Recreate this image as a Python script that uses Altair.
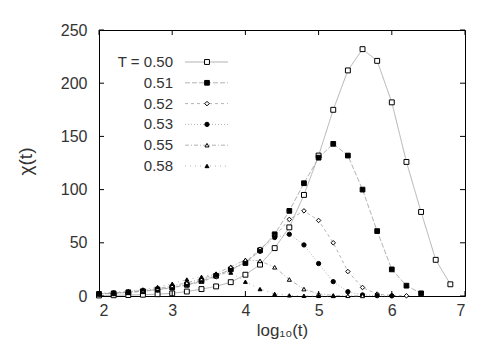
import altair as alt
import pandas as pd

# ---- data ----
LOG_T = [2.0, 2.2, 2.4, 2.6, 2.8, 3.0, 3.2, 3.4, 3.6, 3.8, 4.0, 4.2, 4.4,
         4.6, 4.8, 5.0, 5.2, 5.4, 5.6, 5.8, 6.0, 6.2, 6.4, 6.6, 6.8]
T_LABELS = ["0.50", "0.51", "0.52", "0.53", "0.55", "0.58"]
LEGEND_TEXT = ["T = 0.50", "0.51", "0.52", "0.53", "0.55", "0.58"]

CHI_050 = [0.5, 0.7, 0.9, 1.2, 1.7, 2.5, 4.2, 6.5, 9, 13, 20, 29.5, 45,
           64.5, 95, 132, 175, 212, 232, 221, 182, 126, 79, 34, 11]
CHI_051 = [2, 2.5, 3.5, 4.5, 6, 8, 10.5, 14, 19, 25, 31, 43, 58, 80, 106,
           130, 143, 132, 100, 61, 25, 9.7, 2.5]
CHI_052 = [2, 2.6, 3.4, 4.4, 5.8, 7.7, 10.2, 13.5, 18, 24, 32, 44, 56, 72,
           80, 71, 50, 23, 8, 1.8, 0.5, 0.2]
CHI_053 = [2.1, 2.8, 3.6, 4.7, 6.2, 8.2, 11, 14.5, 19.5, 25, 32, 42, 55, 58,
           48, 30.5, 13.5, 4, 1, 0.3, 0.1]
CHI_055 = [2.2, 3, 4, 5.2, 7, 9.5, 12.5, 16, 21, 27.5, 34, 33, 27, 15.5,
           6.5, 2, 0.6, 0.2, 0.1]
CHI_058 = [2.3, 3.3, 4.5, 6.2, 8.5, 11.5, 15.5, 18, 21, 22, 13.4, 6.5, 2,
           0.6, 0.2, 0.1, 0.05]

X_TICKS = [2, 3, 4, 5, 6, 7]
Y_TICKS = [0, 50, 100, 150, 200, 250]

SERIES = [CHI_050, CHI_051, CHI_052, CHI_053, CHI_055, CHI_058]

rows = []
for t, vals in zip(T_LABELS, SERIES):
    for x, v in zip(LOG_T, vals):
        rows.append({"T": t, "logt": x, "chi": v})
df = pd.DataFrame(rows)
ldf = pd.DataFrame({"T": T_LABELS, "lab": LEGEND_TEXT})
xt = pd.DataFrame({"v": X_TICKS})
yt = pd.DataFrame({"v": Y_TICKS})

# ---- styles ----
W, H = 366, 266
FONT = "Liberation Sans"
TXT = "#333333"
LINE = "#a0a0a0"
DASH = [[1, 0], [5, 2], [3, 3], [1, 2], [4, 2, 1, 2], [1, 4]]
SHAPES = ["square", "square", "diamond", "circle", "triangle-up", "triangle-up"]
FILLS = ["white", "black", "white", "black", "white", "black"]
SIZES = [24, 15, 16, 10, 16, 15]

xs = alt.Scale(domain=[2, 7], nice=False, zero=False)
ys = alt.Scale(domain=[0, 250], nice=False)

dash_enc = alt.StrokeDash("T:N", scale=alt.Scale(domain=T_LABELS, range=DASH), legend=None)
shape_enc = alt.Shape("T:N", scale=alt.Scale(domain=T_LABELS, range=SHAPES), legend=None)
fill_enc = alt.Fill("T:N", scale=alt.Scale(domain=T_LABELS, range=FILLS), legend=None)
size_enc = alt.Size("T:O", scale=alt.Scale(domain=T_LABELS, range=SIZES), legend=None)

x_axis = alt.Axis(values=X_TICKS, ticks=False, tickSize=0, domain=False, grid=False,
                  labelFont=FONT, labelFontSize=16, labelColor=TXT, labelPadding=6,
                  title="log₁₀(t)", titleFont=FONT, titleFontSize=17,
                  titleFontWeight="normal", titleColor=TXT, titleX=W / 2,
                  titleY=34, titleBaseline="middle")
y_axis = alt.Axis(values=Y_TICKS, ticks=False, tickSize=0, domain=False, grid=False,
                  labelFont=FONT, labelFontSize=16, labelColor=TXT, labelPadding=12,
                  title="χ(t)", titleFont=FONT, titleFontSize=19,
                  titleFontWeight="normal", titleColor=TXT, titleX=-74,
                  titleY=131, titleBaseline="middle")


def X(field):
    return alt.X(field, scale=xs, axis=x_axis)


lines = alt.Chart(df).mark_line(color=LINE, strokeWidth=0.8).encode(
    x=X("logt:Q"),
    y=alt.Y("chi:Q", scale=ys, axis=y_axis),
    strokeDash=dash_enc,
    detail="T:N",
)
points = alt.Chart(df).mark_point(filled=True, stroke="black", strokeWidth=1,
                                  opacity=1).encode(
    x=X("logt:Q"),
    y=alt.Y("chi:Q", scale=ys, axis=None),
    shape=shape_enc, fill=fill_enc, size=size_enc,
)

# inside ticks on all four sides
tick_b = alt.Chart(xt).mark_rule(color="black", strokeWidth=1).encode(
    x=X("v:Q"), y=alt.value(H), y2=alt.value(H - 5))
tick_t = alt.Chart(xt).mark_rule(color="black", strokeWidth=1).encode(
    x=X("v:Q"), y=alt.value(0), y2=alt.value(5))
tick_l = alt.Chart(yt).mark_rule(color="black", strokeWidth=1).encode(
    y=alt.Y("v:Q", scale=ys, axis=None), x=alt.value(0), x2=alt.value(5))
tick_r = alt.Chart(yt).mark_rule(color="black", strokeWidth=1).encode(
    y=alt.Y("v:Q", scale=ys, axis=None), x=alt.value(W), x2=alt.value(W - 5))

# key
ly = alt.Scale(type="point", domain=T_LABELS, range=[32, 136], padding=0)
leg_text = alt.Chart(ldf).mark_text(align="right", baseline="middle", font=FONT,
                                    fontSize=15, color=TXT).encode(
    x=alt.value(74), y=alt.Y("T:N", scale=ly, axis=None), text="lab:N")
leg_line = alt.Chart(ldf).mark_rule(color=LINE, strokeWidth=0.8).encode(
    x=alt.value(86), x2=alt.value(129),
    y=alt.Y("T:N", scale=ly, axis=None), strokeDash=dash_enc)
leg_pts = alt.Chart(ldf).mark_point(filled=True, stroke="black", strokeWidth=1,
                                    opacity=1).encode(
    x=alt.value(108), y=alt.Y("T:N", scale=ly, axis=None),
    shape=shape_enc, fill=fill_enc, size=size_enc)

chart = alt.layer(
    lines, points, tick_b, tick_t, tick_l, tick_r, leg_line, leg_pts, leg_text
).resolve_scale(y="independent").properties(
    width=W, height=H,
    autosize=alt.AutoSizeParams(type="none"),
    padding={"left": 91, "top": 22, "right": 25, "bottom": 50},
    background="white",
).configure_view(stroke="black", strokeWidth=1)

chart.save("out.html", embed_options={"renderer": "svg", "actions": False})
